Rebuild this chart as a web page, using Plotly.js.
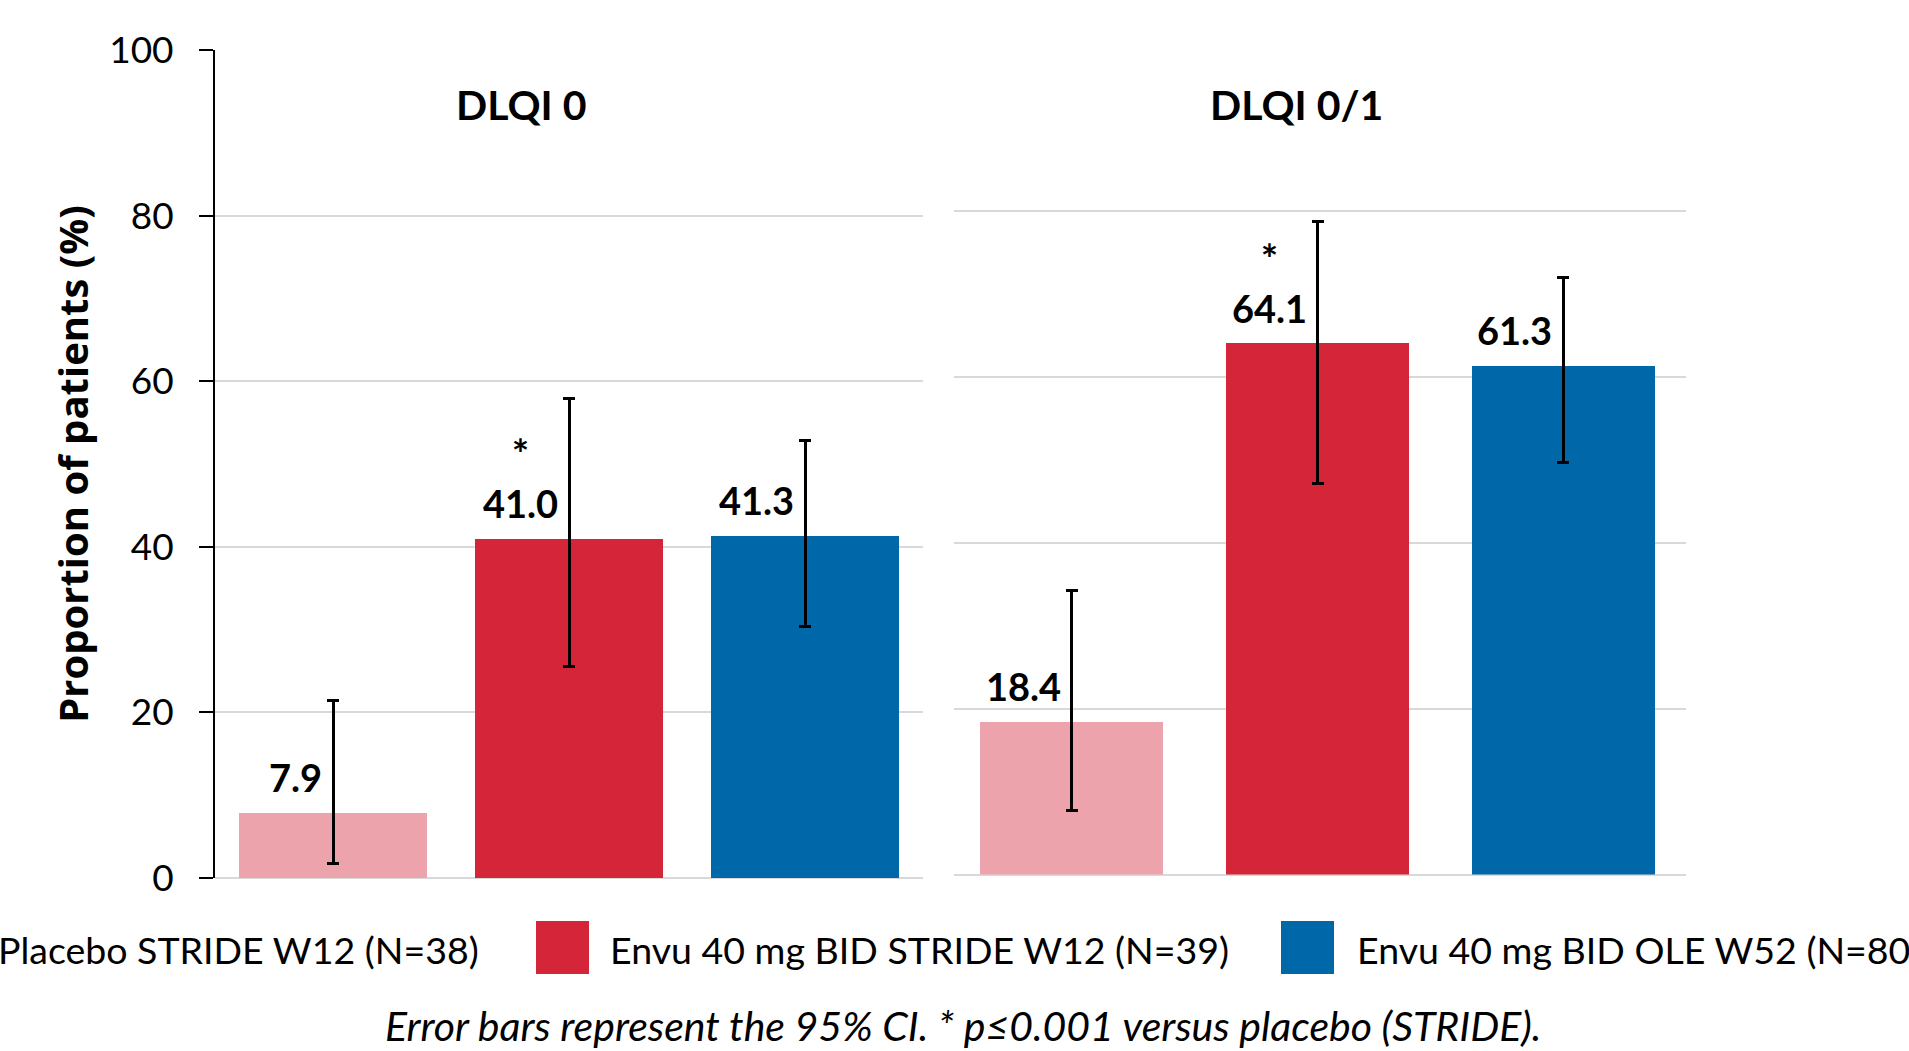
<!DOCTYPE html>
<html><head><meta charset="utf-8">
<script src="https://cdn.plot.ly/plotly-3.0.1.min.js"></script>
<style>html,body{margin:0;padding:0;background:#fff;overflow:hidden}#chart{width:1909px;height:1051px}</style>
</head><body><div id="chart"></div>
<script>
// ---------- data ----------
const seriesNames = ['Placebo STRIDE W12 (N=38)', 'Envu 40 mg BID STRIDE W12 (N=39)', 'Envu 40 mg BID OLE W52 (N=80)'];
const seriesColors = ['#EDA3AB', '#D42638', '#0068A9'];
const panelTitles = ['DLQI 0', 'DLQI 0/1'];
const dlqi0Values = [7.9, 41.0, 41.3];
const dlqi0Lower = [1.7, 25.6, 30.4];
const dlqi0Upper = [21.4, 57.9, 52.8];
const dlqi01Values = [18.4, 64.1, 61.3];
const dlqi01Lower = [7.7, 47.2, 49.7];
const dlqi01Upper = [34.3, 78.8, 72.0];
const significance = ['', '*', ''];
const yTickVals = [0, 20, 40, 60, 80, 100];
const yTitle = 'Proportion of patients (%)';
const footnote = 'Error bars represent the 95% CI. * p≤0.001 versus placebo (STRIDE).';

// ---------- layout helpers ----------
const W = 1909, H = 1051;
const px = v => v / W;
const py = v => 1 - v / H;
const FONT = 'Lato, "Noto Sans", sans-serif';
const LABEL_SIZE = 38;

const panels = [
  {title: panelTitles[0], values: dlqi0Values, lower: dlqi0Lower, upper: dlqi0Upper, xa: 'x', ya: 'y', barWidth: 0.8, titleX: 521},
  {title: panelTitles[1], values: dlqi01Values, lower: dlqi01Lower, upper: dlqi01Upper, xa: 'x2', ya: 'y2', barWidth: 0.745, titleX: 1296}
];

const traces = [];
const annotations = [];
panels.forEach(p => {
  traces.push({
    type: 'bar', x: seriesNames, y: p.values, xaxis: p.xa, yaxis: p.ya,
    width: p.barWidth,
    marker: {color: seriesColors, line: {width: 0}},
    error_y: {
      type: 'data', symmetric: false,
      array: p.upper.map((u, i) => +(u - p.values[i]).toFixed(2)),
      arrayminus: p.lower.map((l, i) => +(p.values[i] - l).toFixed(2)),
      color: '#000000', thickness: 3, width: 6
    },
    hoverinfo: 'skip', showlegend: false
  });
  p.values.forEach((v, i) => {
    const sig = significance[i];
    annotations.push({
      xref: p.xa, yref: p.ya, x: seriesNames[i], y: v,
      text: (sig ? '<span style="font-size:41px">' + sig + '</span><br>' : '') + v.toFixed(1),
      showarrow: false, xanchor: 'right', yanchor: 'middle', align: 'center',
      xshift: -9, yshift: sig ? 61 : 36,
      font: {family: FONT, size: LABEL_SIZE, color: '#000', weight: 700}
    });
  });
  annotations.push({
    xref: 'paper', yref: 'paper', x: px(p.titleX), y: py(105),
    text: p.title, showarrow: false, xanchor: 'center', yanchor: 'middle',
    font: {family: FONT, size: 41, color: '#000', weight: 700}
  });
});

// manual legend (large square swatches)
const legendSwatchX = [-74, 536, 1281];
const legendTextX = [481, 608, 1355];
const legendTextAnchor = ['right', 'left', 'left'];
const shapes = [];
seriesNames.forEach((name, i) => {
  shapes.push({type: 'rect', xref: 'paper', yref: 'paper',
    x0: px(legendSwatchX[i]), x1: px(legendSwatchX[i] + 53), y0: py(974), y1: py(921),
    fillcolor: seriesColors[i], line: {width: 0}});
  annotations.push({xref: 'paper', yref: 'paper', x: px(legendTextX[i]), y: py(949),
    text: name, showarrow: false, xanchor: legendTextAnchor[i], yanchor: 'middle',
    font: {family: FONT, size: 37.5, color: '#000'}});
});

annotations.push({xref: 'paper', yref: 'paper', x: px(963), y: py(1025),
  text: '<i>' + footnote + '</i>', showarrow: false, xanchor: 'center', yanchor: 'middle',
  font: {family: FONT, size: 41, color: '#000'}});

const gridColor = '#D9D9D9';
const layout = {
  width: W, height: H,
  margin: {l: 0, r: 0, t: 0, b: 0},
  paper_bgcolor: '#fff', plot_bgcolor: 'rgba(0,0,0,0)',
  showlegend: false, bargap: 0,
  xaxis: {domain: [px(215), px(923)], range: [-0.5, 2.5], type: 'category',
    showticklabels: false, showgrid: false, zeroline: false, showline: false, ticks: '', fixedrange: true},
  xaxis2: {domain: [px(954), px(1686)], range: [-0.48, 2.5], type: 'category', anchor: 'y2',
    showticklabels: false, showgrid: false, zeroline: false, showline: false, ticks: '', fixedrange: true},
  yaxis: {domain: [1 - 878 / H, 1 - 50 / H], range: [0, 100], tickvals: yTickVals,
    showline: true, linecolor: '#000', linewidth: 2,
    ticks: 'outside', ticklen: 14, tickwidth: 2, tickcolor: '#000',
    ticklabelstandoff: 18,
    tickfont: {family: FONT, size: 37, color: '#000'},
    showgrid: true, gridcolor: gridColor, gridwidth: 2,
    zeroline: true, zerolinecolor: gridColor, zerolinewidth: 2,
    title: {text: yTitle, standoff: 8, font: {family: '"Open Sans", sans-serif', size: 40, color: '#000', weight: 700}},
    fixedrange: true},
  yaxis2: {domain: [1 - 874.6 / H, 1 - 45.5 / H], range: [0, 100], tickvals: yTickVals, anchor: 'x2',
    showticklabels: false, ticks: '', showline: false,
    showgrid: true, gridcolor: gridColor, gridwidth: 2,
    zeroline: true, zerolinecolor: gridColor, zerolinewidth: 2, fixedrange: true},
  annotations: annotations,
  shapes: shapes
};

Plotly.newPlot('chart', traces, layout, {staticPlot: true, displayModeBar: false});
</script>
</body></html>
